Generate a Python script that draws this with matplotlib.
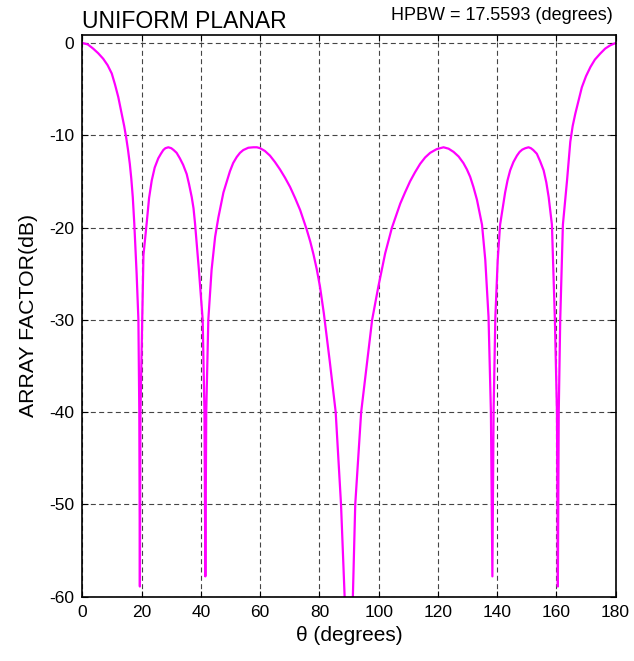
import numpy as np
import matplotlib
matplotlib.use('Agg')
import matplotlib.pyplot as plt

plt.rcParams['font.family'] = ['Liberation Sans', 'DejaVu Sans']
plt.rcParams['axes.unicode_minus'] = False

# values (theta in degrees, array factor in dB)
theta_left = [0, 1.8, 3.6, 5.3, 7.0, 8.5, 9.9, 11.0, 12.1, 13.1, 14.1, 14.8,
              15.4, 16.0, 16.5, 17.0, 17.5, 18.3, 18.9, 19.2, 19.4, 19.6, 20.2,
              20.6, 21.7, 22.5, 23.4, 24.4, 25.6, 26.5, 27.3, 28.0, 29.0, 30.0,
              30.8, 31.8, 32.9, 34.0, 35.2, 36.0, 36.9, 37.5, 38.0, 39.3, 40.6,
              41.2, 41.5, 41.8, 42.5, 43.6, 44.8, 45.9, 47.6, 49.8, 50.9, 52.1,
              53.2, 54.3, 56.0, 57.7, 58.9, 60.0, 61.6, 63.3, 65.0, 66.7, 68.4,
              70.1, 71.8, 73.5, 75.7, 76.9, 78.0, 79.1, 80.2, 81.5, 83.5, 85.5,
              87.3, 88.5, 90.0]
af_left = [0, -0.15, -0.6, -1.1, -1.7, -2.4, -3.3, -4.5, -5.85, -7.4, -9.0,
           -10.3, -11.6, -13.1, -14.7, -16.7, -19.5, -25.0, -30.0, -40.0, -58.9,
           -40.0, -30.0, -23.0, -19.5, -16.8, -14.9, -13.5, -12.5, -12.0, -11.6,
           -11.4, -11.3, -11.4, -11.6, -11.9, -12.5, -13.2, -14.2, -15.3, -16.7,
           -17.9, -19.5, -24.5, -30.0, -40.0, -57.8, -40.0, -30.0, -24.6, -21.0,
           -18.9, -16.2, -13.9, -13.0, -12.35, -11.9, -11.6, -11.35, -11.3,
           -11.3, -11.4, -11.7, -12.2, -12.9, -13.7, -14.6, -15.6, -16.8, -18.1,
           -20.2, -21.5, -22.9, -24.5, -26.4, -29.3, -34.5, -40.0, -50.0, -60.0,
           -72.0]

theta_right = [91.3, 92.1, 94.1, 97.8, 99.9, 102.2, 104.5, 107.3, 108.9, 110.6,
               112.3, 114.0, 115.7, 117.4, 119.6, 121.9, 123.6, 125.3, 127.0,
               128.6, 129.8, 130.9, 132.0, 133.2, 134.9, 136.0, 137.1, 137.9,
               138.4, 138.8, 139.4, 140.2, 141.0, 142.7, 143.5, 144.4, 145.5,
               146.7, 147.6, 148.5, 149.5, 150.6, 151.4, 152.2, 153.4, 154.5,
               155.7, 156.6, 157.4, 158.5, 159.5, 160.2, 160.5, 160.8, 161.3,
               162.2, 163.6, 164.7, 165.5, 166.4, 167.5, 168.6, 170.0, 171.5,
               173.0, 174.8, 176.5, 178.2, 180.0]
af_right = [-60.0, -50.0, -40.0, -30.0, -26.4, -22.8, -20.0, -17.4, -16.2, -15.0,
            -14.0, -13.1, -12.4, -11.9, -11.5, -11.3, -11.45, -11.8, -12.3,
            -13.0, -13.7, -14.5, -15.6, -17.0, -19.7, -23.5, -29.7, -40.0, -57.8,
            -40.0, -29.7, -23.5, -19.7, -16.2, -14.9, -13.8, -12.9, -12.2, -11.8,
            -11.55, -11.4, -11.3, -11.4, -11.6, -12.0, -12.8, -13.8, -15.1, -16.7,
            -19.7, -30.0, -40.0, -58.9, -40.0, -30.0, -19.7, -14.9, -10.7, -9.0,
            -7.65, -6.2, -4.8, -3.6, -2.6, -1.8, -1.15, -0.6, -0.25, 0]

theta = theta_left + theta_right
af_db = af_left + af_right

x_ticks = [0, 20, 40, 60, 80, 100, 120, 140, 160, 180]
y_ticks = [0, -10, -20, -30, -40, -50, -60]
hpbw = 17.5593

fig = plt.figure(figsize=(6.34, 6.61), dpi=100)
ax = fig.add_axes([0.130, 0.0973, 0.841, 0.8502])

ax.plot(theta, af_db, color='#ff00ff', lw=1.6)

ax.set_xlim(0, 180)
ax.set_ylim(-60, 0.9)
ax.set_xticks(x_ticks)
ax.set_yticks(y_ticks)
ax.grid(True, color='#454545', linestyle=(0, (4.5, 3)), lw=0.8)
ax.tick_params(direction='in', top=True, right=True, length=4, width=0.8,
               labelsize=12.5, pad=6)
for s in ax.spines.values():
    s.set_linewidth(1.2)

ax.set_xlabel('θ (degrees)', fontsize=15, labelpad=4)
ax.set_ylabel('ARRAY FACTOR(dB)', fontsize=15.3, labelpad=8)
ax.set_title('UNIFORM PLANAR', loc='left', fontsize=16.5, pad=5)
fig.text(0.967, 0.97, 'HPBW = %.4f (degrees)' % hpbw, ha='right', va='baseline',
         fontsize=13)

fig.savefig('out.png', dpi=100)
